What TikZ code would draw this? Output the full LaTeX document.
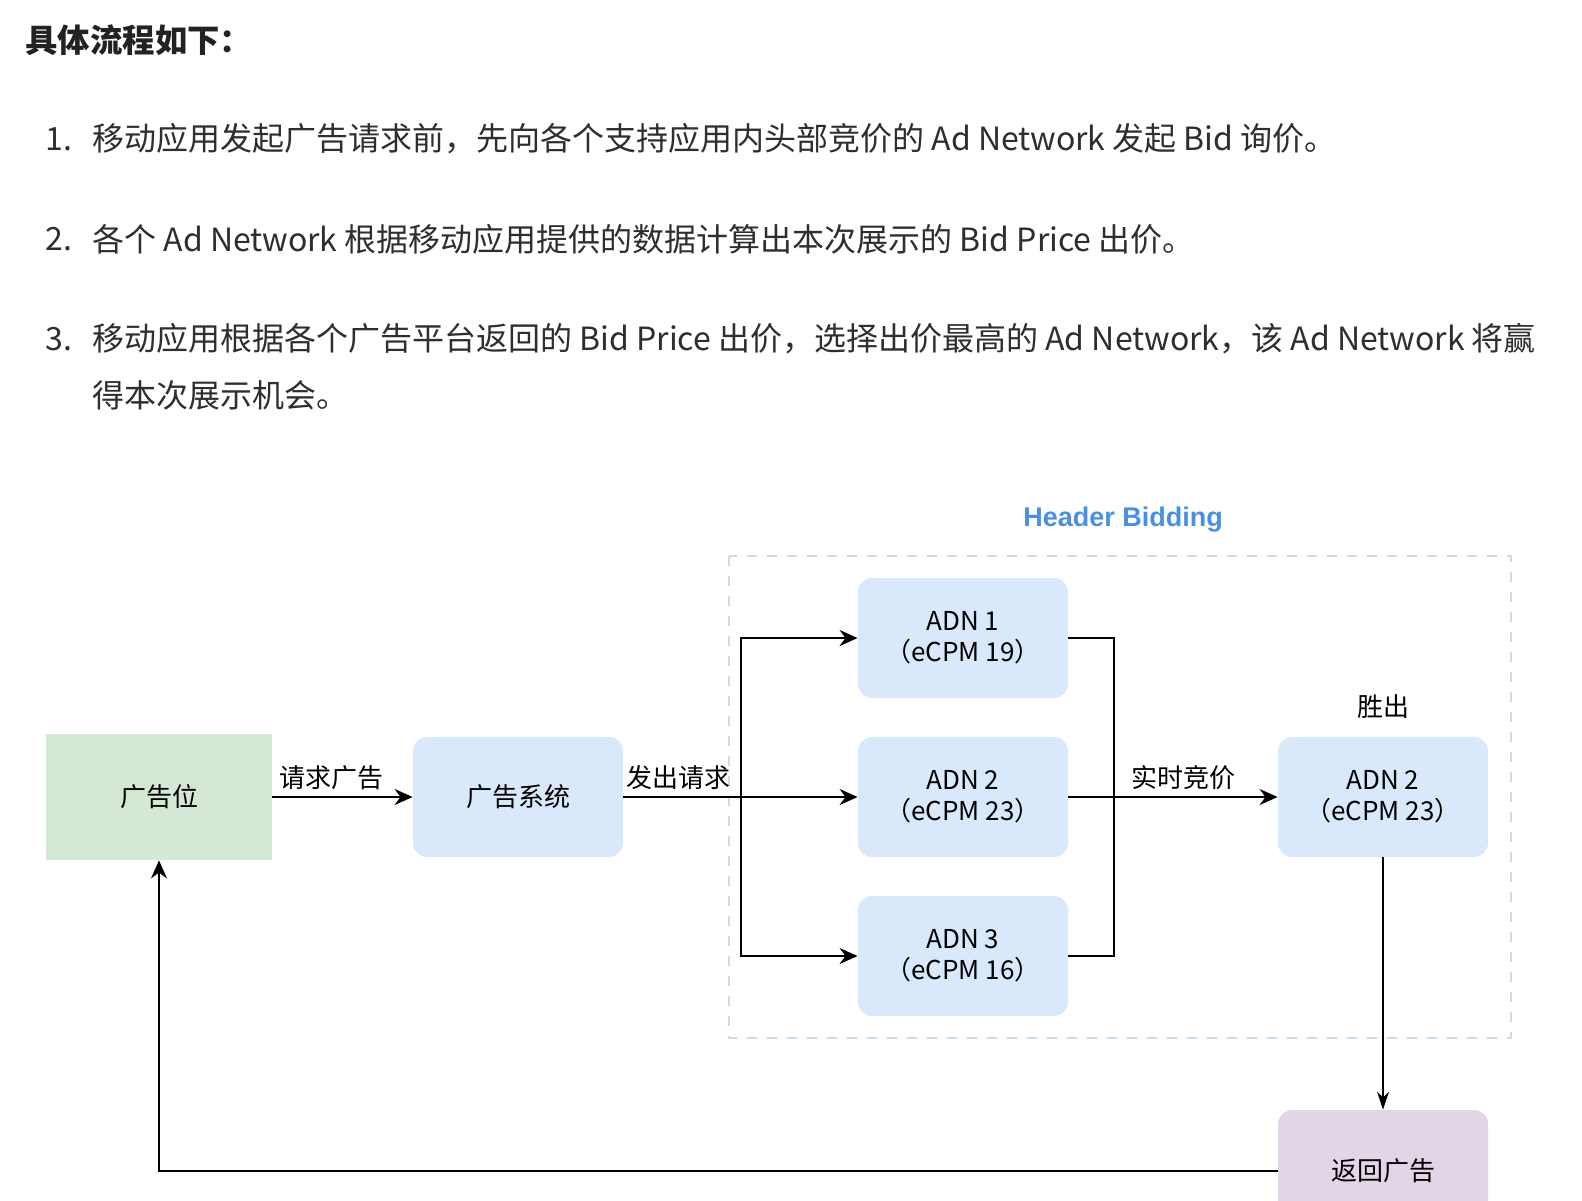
\documentclass[tikz,border=0pt]{standalone}
\usepackage{fontspec}
\setmainfont{Noto Sans CJK SC}
\newfontfamily\helv{Liberation Sans}
\usetikzlibrary{arrows.meta}
\definecolor{txt}{HTML}{2E2E2E}
\definecolor{ttl}{HTML}{222222}
\definecolor{bluebox}{HTML}{DAE8FC}
\definecolor{greenbox}{HTML}{D5E8D4}
\definecolor{purplebox}{HTML}{E1D5E7}
\definecolor{hbblue}{HTML}{4A90E2}
\definecolor{dashblue}{HTML}{C6DDF0}
\begin{document}
\begin{tikzpicture}[x=0.5pt,y=-0.5pt,
  para/.style={anchor=west,inner sep=0pt,text=txt,font=\fontsize{16}{19}\selectfont},
  bbox/.style={fill=bluebox,rounded corners=7pt,minimum width=105pt,minimum height=60pt,align=center,font=\fontsize{13}{15.5}\selectfont,text=black,inner sep=1pt},
  gbox/.style={fill=greenbox,minimum width=113pt,minimum height=63pt,align=center,font=\fontsize{13}{15.5}\selectfont,text=black},
  pbox/.style={fill=purplebox,rounded corners=7pt,minimum width=105pt,minimum height=61pt,align=center,font=\fontsize{13}{15.5}\selectfont,text=black},
  lbl/.style={font=\fontsize{13}{15}\selectfont,text=black,inner sep=3pt},
  arr/.style={line width=1pt,-{Stealth[length=9pt,width=8pt]}},
  ln/.style={line width=1pt},
  thinarr/.style={line width=0.7pt,-{Stealth[length=9pt,width=6pt]}}
]
\useasboundingbox (0,0) rectangle (1582,1200);
\clip (0,0) rectangle (1582,1200);
\fill[white] (0,0) rectangle (1582,1200);

% text block
\node[para,text=ttl,font=\fontsize{16.2}{19}\bfseries\selectfont] (title) at (25,40) {具体流程如下：};
\node[para] (n1) at (45,139) {1.};
\node[para] (t1) at (92,139) {移动应用发起广告请求前，先向各个支持应用内头部竞价的 Ad Network 发起 Bid 询价。};
\node[para] (n2) at (45,239) {2.};
\node[para] (t2) at (92,239) {各个 Ad Network 根据移动应用提供的数据计算出本次展示的 Bid Price 出价。};
\node[para] (n3) at (45,339) {3.};
\node[para] (t3) at (92,339) {移动应用根据各个广告平台返回的 Bid Price 出价，选择出价最高的 Ad Network，该 Ad Network 将赢};
\node[para] (t3b) at (92,395) {得本次展示机会。};

% header bidding group
\draw[dashblue,line width=1.3pt,dash pattern=on 5pt off 5pt] (729,556) rectangle (1511,1038);
\node[text=hbblue,font=\helv\fontsize{13.5}{16}\bfseries\selectfont] (hb) at (1123,520) {Header Bidding};

% nodes
\node[gbox] (slot) at (159,797) {广告位};
\node[bbox] (sys) at (518,797) {广告系统};
\node[bbox] (adn1) at (963,638) {ADN 1\\（eCPM 19）};
\node[bbox] (adn2) at (963,797) {ADN 2\\（eCPM 23）};
\node[bbox] (adn3) at (963,956) {ADN 3\\（eCPM 16）};
\node[bbox] (win) at (1383,797) {ADN 2\\（eCPM 23）};
\node[lbl,above=6pt] (winlbl) at (win.north) {胜出};
\node[pbox] (ret) at (1383,1171) {返回广告};

% connectors
\coordinate (sp) at (741,797);
\coordinate (mp) at (1114,797);
\draw[arr] (slot) -- node[lbl,above,pos=0.42] {请求广告} (sys);
\draw[ln] (sys.east) -- node[lbl,above,pos=0.47] {发出请求} (sp);
\draw[arr] (sp) |- (adn1.west);
\draw[arr] (sp) -- (adn2.west);
\draw[arr] (sp) |- (adn3.west);
\draw[ln] (adn1.east) -| (mp);
\draw[ln] (adn3.east) -| (mp);
\draw[arr] (adn2.east) -- node[lbl,above,pos=0.55] {实时竞价} (win.west);
\draw[thinarr] (win.south) -- (ret.north);
\draw[arr] (ret.west) -| (slot.south);
\end{tikzpicture}
\end{document}
